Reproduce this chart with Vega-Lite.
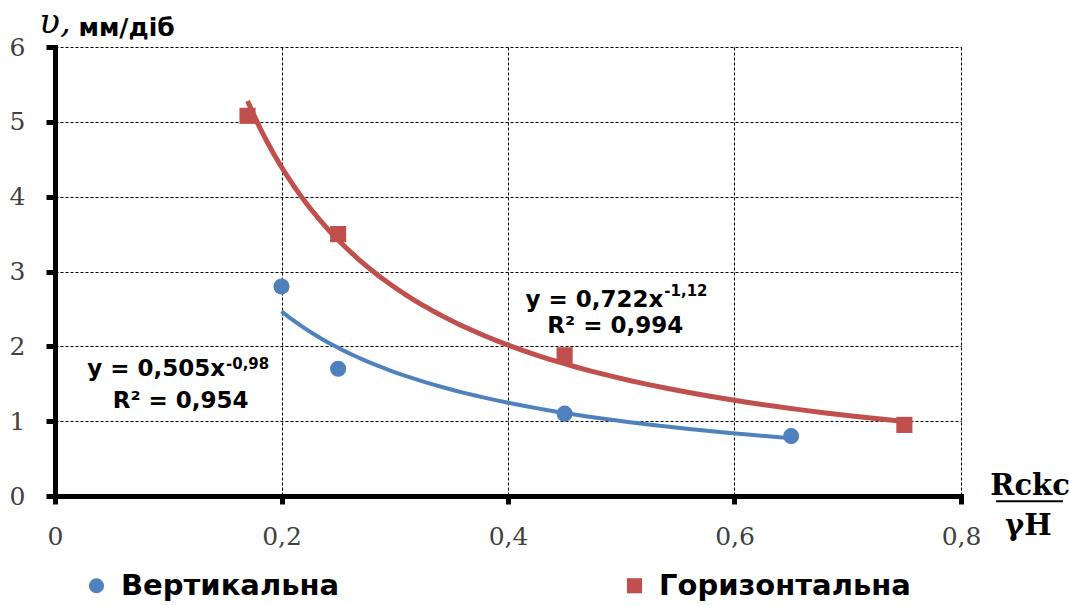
{
  "$schema": "https://vega.github.io/schema/vega-lite/v6.json",
  "width": 906,
  "height": 449,
  "autosize": {"type": "none"},
  "padding": {"left": 55, "top": 47, "right": 108, "bottom": 109},
  "background": "white",
  "config": {"view": {"stroke": null}},
  "data": {
    "values": [
      {"series": "Вертикальна", "x": 0.2, "y": 2.8},
      {"series": "Вертикальна", "x": 0.25, "y": 1.7},
      {"series": "Вертикальна", "x": 0.45, "y": 1.1},
      {"series": "Вертикальна", "x": 0.65, "y": 0.8},
      {"series": "Горизонтальна", "x": 0.17, "y": 5.08},
      {"series": "Горизонтальна", "x": 0.25, "y": 3.5},
      {"series": "Горизонтальна", "x": 0.45, "y": 1.88},
      {"series": "Горизонтальна", "x": 0.75, "y": 0.95}
    ]
  },
  "layer": [
    {
      "mark": {"type": "point", "filled": true, "opacity": 1, "size": 260, "strokeWidth": 0},
      "encoding": {
        "x": {
          "field": "x", "type": "quantitative",
          "scale": {"domain": [0, 0.8], "nice": false, "zero": false},
          "axis": {
            "values": [0, 0.2, 0.4, 0.6, 0.8],
            "title": null,
            "labelExpr": "replace(format(datum.value, '~g'), '.', ',')",
            "labelFont": "DejaVu Serif", "labelFontSize": 25, "labelColor": "#404040",
            "labelPadding": 20, "labelFlush": false, "labelOverlap": false,
            "tickSize": 8, "tickWidth": 5, "tickColor": "black",
            "domainColor": "black", "domainWidth": 5, "domainCap": "square",
            "grid": true, "gridColor": "black", "gridDash": [3, 2], "gridWidth": 1, "gridOpacity": 1
          }
        },
        "y": {
          "field": "y", "type": "quantitative",
          "scale": {"domain": [0, 6], "nice": false},
          "axis": {
            "values": [0, 1, 2, 3, 4, 5, 6],
            "labelExpr": "format(datum.value, 'd')",
            "title": "мм/діб",
            "titleAngle": 0, "titleX": 23, "titleY": -20, "titleAlign": "left", "titleBaseline": "middle",
            "titleFont": "DejaVu Sans", "titleFontWeight": "bold", "titleFontSize": 25, "titleColor": "black",
            "labelFont": "DejaVu Serif", "labelFontSize": 25, "labelColor": "#404040",
            "labelPadding": 21, "labelFlush": false, "labelOverlap": false,
            "tickSize": 9, "tickWidth": 5, "tickColor": "black",
            "domainColor": "black", "domainWidth": 5, "domainCap": "square",
            "grid": true, "gridColor": "black", "gridDash": [3, 2], "gridWidth": 1, "gridOpacity": 1
          }
        },
        "color": {
          "field": "series", "type": "nominal",
          "scale": {"domain": ["Вертикальна", "Горизонтальна"], "range": ["#4F81BD", "#C0504D"]},
          "legend": {
            "orient": "none", "legendX": 27, "legendY": 524, "direction": "horizontal", "columns": 2,
            "columnPadding": 280, "title": null,
            "labelFont": "DejaVu Sans", "labelFontWeight": "bold", "labelFontSize": 29, "labelColor": "black",
            "symbolSize": 230, "labelOffset": 10, "labelLimit": 400, "symbolStrokeWidth": 0
          }
        },
        "shape": {
          "field": "series", "type": "nominal",
          "scale": {"domain": ["Вертикальна", "Горизонтальна"], "range": ["circle", "square"]},
          "legend": {
            "orient": "none", "legendX": 27, "legendY": 524, "direction": "horizontal", "columns": 2,
            "columnPadding": 280, "title": null,
            "labelFont": "DejaVu Sans", "labelFontWeight": "bold", "labelFontSize": 29, "labelColor": "black",
            "symbolSize": 230, "labelOffset": 10, "labelLimit": 400, "symbolStrokeWidth": 0
          }
        }
      }
    },
    {
      "transform": [
        {"filter": "datum.series === 'Горизонтальна'"},
        {"regression": "y", "on": "x", "method": "pow"}
      ],
      "mark": {"type": "line", "color": "#C0504D", "strokeWidth": 5, "interpolate": "monotone"},
      "encoding": {
        "x": {"field": "x", "type": "quantitative"},
        "y": {"field": "y", "type": "quantitative"}
      }
    },
    {
      "transform": [
        {"filter": "datum.series === 'Вертикальна'"},
        {"regression": "y", "on": "x", "method": "pow"}
      ],
      "mark": {"type": "line", "color": "#4F81BD", "strokeWidth": 4, "interpolate": "monotone"},
      "encoding": {
        "x": {"field": "x", "type": "quantitative"},
        "y": {"field": "y", "type": "quantitative"}
      }
    },
    {
      "data": {"values": [{"t": "y = 0,722x"}]},
      "mark": {"type": "text", "align": "right", "baseline": "middle", "font": "DejaVu Sans", "fontWeight": "bold", "fontSize": 23, "color": "black"},
      "encoding": {
        "x": {"datum": 0.5371, "type": "quantitative"},
        "y": {"datum": 2.62, "type": "quantitative"},
        "text": {"field": "t"}
      }
    },
    {
      "data": {"values": [{"t": "-1,12"}]},
      "mark": {"type": "text", "align": "left", "baseline": "middle", "font": "DejaVu Sans", "fontWeight": "bold", "fontSize": 15, "color": "black"},
      "encoding": {
        "x": {"datum": 0.538, "type": "quantitative"},
        "y": {"datum": 2.74, "type": "quantitative"},
        "text": {"field": "t"}
      }
    },
    {
      "data": {"values": [{"t": "R² = 0,994"}]},
      "mark": {"type": "text", "align": "center", "baseline": "middle", "font": "DejaVu Sans", "fontWeight": "bold", "fontSize": 23, "color": "black"},
      "encoding": {
        "x": {"datum": 0.4947, "type": "quantitative"},
        "y": {"datum": 2.276, "type": "quantitative"},
        "text": {"field": "t"}
      }
    },
    {
      "data": {"values": [{"t": "y = 0,505x"}]},
      "mark": {"type": "text", "align": "right", "baseline": "middle", "font": "DejaVu Sans", "fontWeight": "bold", "fontSize": 23, "color": "black"},
      "encoding": {
        "x": {"datum": 0.1502, "type": "quantitative"},
        "y": {"datum": 1.70, "type": "quantitative"},
        "text": {"field": "t"}
      }
    },
    {
      "data": {"values": [{"t": "-0,98"}]},
      "mark": {"type": "text", "align": "left", "baseline": "middle", "font": "DejaVu Sans", "fontWeight": "bold", "fontSize": 15, "color": "black"},
      "encoding": {
        "x": {"datum": 0.151, "type": "quantitative"},
        "y": {"datum": 1.77, "type": "quantitative"},
        "text": {"field": "t"}
      }
    },
    {
      "data": {"values": [{"t": "R² = 0,954"}]},
      "mark": {"type": "text", "align": "center", "baseline": "middle", "font": "DejaVu Sans", "fontWeight": "bold", "fontSize": 23, "color": "black"},
      "encoding": {
        "x": {"datum": 0.1109, "type": "quantitative"},
        "y": {"datum": 1.276, "type": "quantitative"},
        "text": {"field": "t"}
      }
    },
    {
      "data": {"values": [{"t": "υ,"}]},
      "mark": {"type": "text", "align": "center", "baseline": "middle", "font": "DejaVu Serif", "fontStyle": "italic", "fontSize": 34, "color": "black"},
      "encoding": {
        "x": {"datum": 0.0, "type": "quantitative"},
        "y": {"datum": 6.32, "type": "quantitative"},
        "text": {"field": "t"}
      }
    },
    {
      "data": {"values": [{"t": "Rckc"}]},
      "mark": {"type": "text", "align": "center", "baseline": "alphabetic", "font": "DejaVu Serif", "fontWeight": "bold", "fontSize": 29, "color": "black"},
      "encoding": {
        "x": {"datum": 0.861, "type": "quantitative"},
        "y": {"datum": 0.01, "type": "quantitative"},
        "text": {"field": "t"}
      }
    },
    {
      "data": {"values": [{"t": "γH"}]},
      "mark": {"type": "text", "align": "center", "baseline": "alphabetic", "font": "DejaVu Serif", "fontWeight": "bold", "fontSize": 29, "color": "black"},
      "encoding": {
        "x": {"datum": 0.8595, "type": "quantitative"},
        "y": {"datum": -0.524, "type": "quantitative"},
        "text": {"field": "t"}
      }
    },
    {
      "data": {"values": [{"t": "bar"}]},
      "mark": {"type": "rule", "strokeWidth": 2, "color": "black"},
      "encoding": {
        "x": {"datum": 0.831, "type": "quantitative"},
        "x2": {"datum": 0.89},
        "y": {"datum": -0.071, "type": "quantitative"}
      }
    }
  ]
}
